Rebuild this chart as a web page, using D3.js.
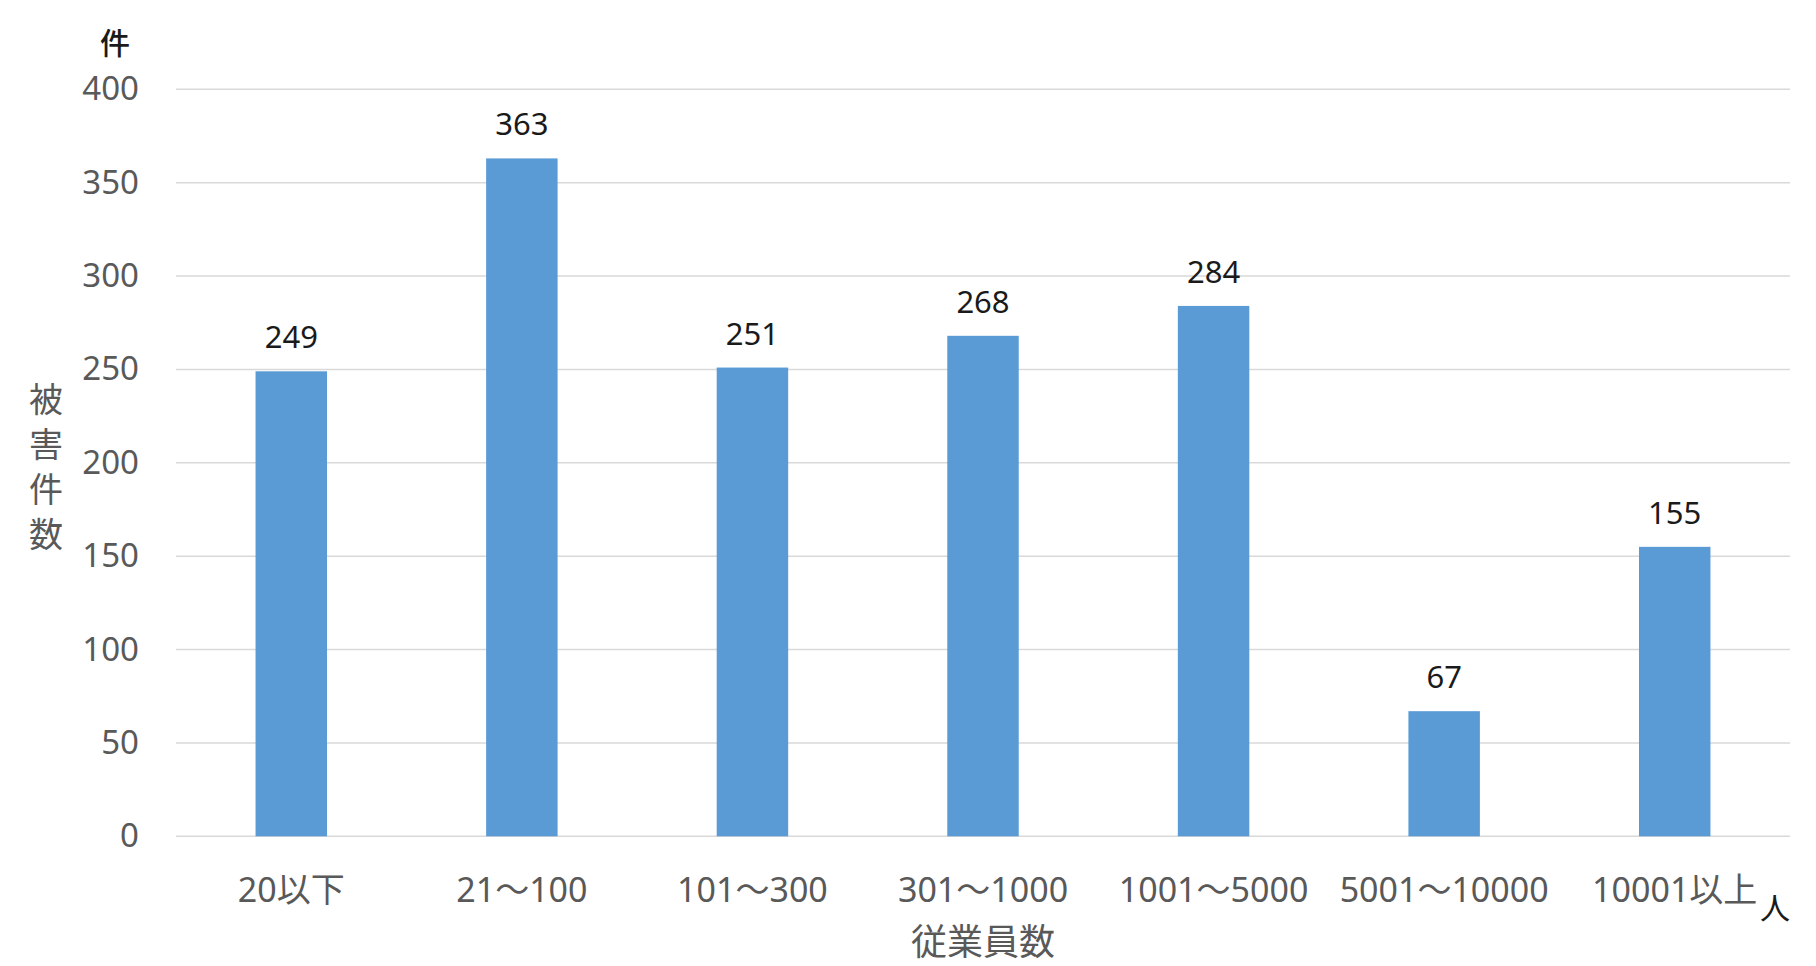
<!DOCTYPE html>
<html><head><meta charset="utf-8">
<script src="https://cdn.jsdelivr.net/npm/d3@7"></script>
<style>body{margin:0;background:#fff;} svg{display:block;}</style>
</head><body>
<svg id="c" width="1816" height="966"></svg>
<script>
const categories = ["20以下","21～100","101～300","301～1000","1001～5000","5001～10000","10001以上"];
const values = [249,363,251,268,284,67,155];
const yTicks = [0,50,100,150,200,250,300,350,400];

const svg = d3.select("#c");
const font = "'Noto Sans','Noto Sans CJK JP',sans-serif";
const cjk = "'Noto Sans CJK JP',sans-serif";
const m = {left:176, right:1790, top:89.3, bottom:836.3};
const x = d3.scaleBand().domain(categories).range([m.left,m.right]).paddingInner(0.69).paddingOuter(0.345);
const y = d3.scaleLinear().domain([0,400]).range([m.bottom,m.top]);

// gridlines
svg.append("g").selectAll("line").data(yTicks).join("line")
  .attr("x1",m.left).attr("x2",m.right)
  .attr("y1",d=>y(d)).attr("y2",d=>y(d))
  .attr("stroke","#d9d9d9").attr("stroke-width",1.5);

// y axis labels
const ya = svg.append("g").attr("transform",`translate(${m.left},0)`)
  .call(d3.axisLeft(y).tickValues(yTicks).tickSize(0).tickPadding(37));
ya.select(".domain").remove();
ya.selectAll("text").attr("font-family",font).attr("font-size",33).attr("fill","#595959");

// bars
svg.append("g").selectAll("rect").data(values).join("rect")
  .attr("x",(d,i)=>x(categories[i])).attr("width",x.bandwidth())
  .attr("y",d=>y(d)).attr("height",d=>y(0)-y(d))
  .attr("fill","#5B9BD5");

// data labels
svg.append("g").selectAll("text").data(values).join("text")
  .attr("x",(d,i)=>x(categories[i])+x.bandwidth()/2)
  .attr("y",d=>y(d)-23)
  .attr("text-anchor","middle").attr("font-family",font).attr("font-size",31)
  .attr("fill","#1a1a1a").text(d=>d);

// x axis labels
const xa = svg.append("g").attr("transform",`translate(0,${m.bottom})`)
  .call(d3.axisBottom(x).tickSize(0).tickPadding(42));
xa.select(".domain").remove();
xa.selectAll("text").attr("font-family",font).attr("font-size",34).attr("fill","#595959");

// unit labels
svg.append("text").attr("x",115).attr("y",54).attr("text-anchor","middle")
  .attr("font-family",cjk).attr("font-size",30).attr("font-weight",500).attr("fill","#1a1a1a").text("件");
svg.append("text").attr("x",1775).attr("y",919).attr("text-anchor","middle")
  .attr("font-family",cjk).attr("font-size",30).attr("fill","#1a1a1a").text("人");

// axis titles
svg.append("text").attr("x",46).attr("y",472)
  .attr("writing-mode","vertical-rl").style("writing-mode","vertical-rl")
  .attr("text-anchor","middle").attr("letter-spacing",11)
  .attr("font-family",cjk).attr("font-size",34)
  .attr("fill","#595959").text("被害件数");
svg.append("text").attr("x",(m.left+m.right)/2).attr("y",955).attr("text-anchor","middle")
  .attr("font-family",cjk).attr("font-size",36).attr("fill","#595959").text("従業員数");
</script>
</body></html>
